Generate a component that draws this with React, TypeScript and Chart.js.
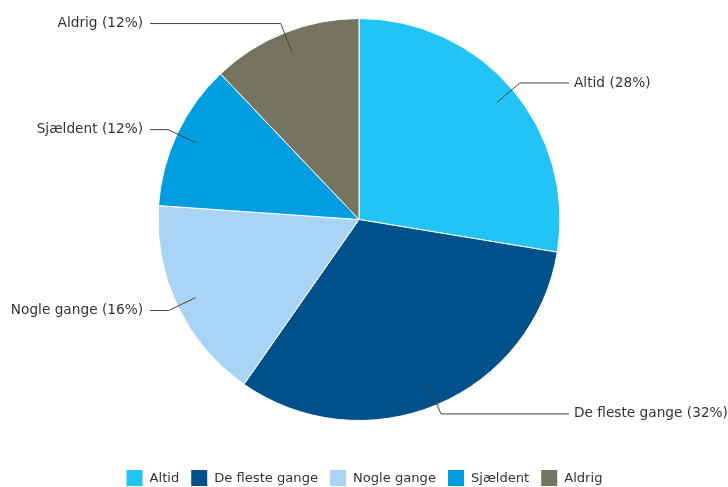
import React, { useEffect, useRef } from "react";
import { Chart, registerables } from "chart.js";

Chart.register(...registerables);

const categories = ["Altid", "De fleste gange", "Nogle gange", "Sjældent", "Aldrig"];
const values = [27.6, 32.1, 16.4, 11.8, 12.1];
const colors = ["#21C4F5", "#00518A", "#A9D4F5", "#009EE0", "#757461"];

const FONT = "13.7px 'DejaVu Sans', Verdana, sans-serif";
const LEGEND_FONT = "13.1px 'DejaVu Sans', Verdana, sans-serif";
const TEXT_COLOR = "#333333";

const labelPlugin = {
  id: "leaderLabels",
  afterDatasetsDraw(chart: any) {
    const ctx = chart.ctx as CanvasRenderingContext2D;
    const meta = chart.getDatasetMeta(0);
    const total = values.reduce((a, b) => a + b, 0);
    ctx.save();
    ctx.font = FONT;
    ctx.textBaseline = "middle";
    meta.data.forEach((arc: any, i: number) => {
      const { x: cx, y: cy, outerRadius: r, startAngle, endAngle } = arc.getProps(
        ["x", "y", "outerRadius", "startAngle", "endAngle"],
        true
      );
      const mid = (startAngle + endAngle) / 2;
      const cos = Math.cos(mid);
      const sin = Math.sin(mid);
      const ix = cx + cos * (r - 20);
      const iy = cy + sin * (r - 20);
      const ex = cx + cos * (r + 10);
      const ey = cy + sin * (r + 10);
      const right = cos >= 0;
      const hx = right ? cx + r + 9 : cx - r - 8;
      ctx.strokeStyle = "#444444";
      ctx.lineWidth = 1;
      ctx.beginPath();
      ctx.moveTo(ix, iy);
      ctx.lineTo(ex, ey);
      ctx.lineTo(hx, ey);
      ctx.stroke();
      const pct = Math.round((values[i] / total) * 100);
      ctx.fillStyle = TEXT_COLOR;
      ctx.textAlign = right ? "left" : "right";
      ctx.fillText(`${categories[i]} (${pct}%)`, right ? hx + 5 : hx - 7, ey);
    });
    ctx.restore();
  },
};

const legendPlugin = {
  id: "customLegend",
  afterDraw(chart: any) {
    const ctx = chart.ctx as CanvasRenderingContext2D;
    ctx.save();
    ctx.font = LEGEND_FONT;
    ctx.textBaseline = "middle";
    ctx.textAlign = "left";
    const box = 16;
    const gapText = 7;
    const gapItem = 12;
    const widths = categories.map((c) => box + gapText + ctx.measureText(c).width);
    const totalW = widths.reduce((a, b) => a + b, 0) + gapItem * (categories.length - 1);
    let x = chart.width / 2 + 0.5 - totalW / 2;
    const top = 470;
    categories.forEach((c, i) => {
      ctx.fillStyle = colors[i];
      ctx.fillRect(x, top, box, box);
      ctx.fillStyle = TEXT_COLOR;
      ctx.fillText(c, x + box + gapText, top + box / 2 + 0.5);
      x += widths[i] + gapItem;
    });
    ctx.restore();
  },
};

export default function App() {
  const canvasRef = useRef<HTMLCanvasElement | null>(null);

  useEffect(() => {
    document.body.style.margin = "0";
    const canvas = canvasRef.current;
    if (!canvas) return;
    const chart = new Chart(canvas, {
      type: "pie",
      data: {
        labels: categories,
        datasets: [
          {
            data: values,
            backgroundColor: colors,
            borderColor: "#ffffff",
            borderWidth: 1,
          },
        ],
      },
      options: {
        animation: false,
        responsive: false,
        maintainAspectRatio: false,
        layout: { padding: { top: 18, bottom: 66, left: 0, right: 10 } },
        plugins: {
          legend: { display: false },
          tooltip: { enabled: false },
        },
      },
      plugins: [labelPlugin, legendPlugin],
    });
    return () => chart.destroy();
  }, []);

  return (
    <div style={{ width: 728, height: 487 }}>
      <canvas ref={canvasRef} width={728} height={487} style={{ width: 728, height: 487, display: "block" }} />
    </div>
  );
}
